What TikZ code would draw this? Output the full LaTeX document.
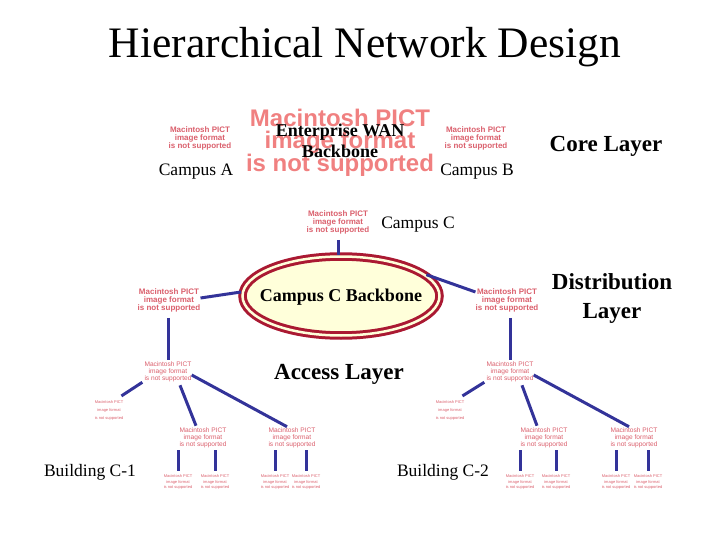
\documentclass[tikz,border=0pt]{standalone}
\usepackage{fontspec}
\setmainfont{Liberation Serif}
\setsansfont{Liberation Sans}
\usetikzlibrary{shapes.geometric}
\definecolor{linkblue}{RGB}{51,51,153}
\definecolor{ringred}{RGB}{170,25,50}
\definecolor{cream}{RGB}{255,255,218}
\definecolor{pictpink}{RGB}{218,95,108}
\definecolor{bigpink}{RGB}{240,128,128}
\begin{document}
\begin{tikzpicture}[x=1pt,y=-1pt,
  title/.style={font=\fontsize{43.5}{46}\selectfont},
  bigpict/.style={text=bigpink,align=center,inner sep=0pt,font=\sffamily\bfseries\fontsize{24}{22}\selectfont},
  pict/.style={text=pictpink,align=center,inner sep=0pt,font=\sffamily\bfseries\fontsize{8}{8}\selectfont},
  midpict/.style={text=pictpink,align=center,inner sep=0pt,font=\sffamily\fontsize{6.6}{7}\selectfont},
  tinypict/.style={text=pictpink,align=center,inner sep=0pt,font=\sffamily\fontsize{4}{8}\selectfont},
  pcpict/.style={text=pictpink,align=center,inner sep=0pt,font=\sffamily\fontsize{4}{5.5}\selectfont},
  lbl/.style={font=\fontsize{17.5}{20}\selectfont},
  heavy/.style={font=\bfseries\fontsize{18}{21}\selectfont,align=center,inner sep=0pt},
  layer/.style={font=\bfseries\fontsize{23}{29}\selectfont,align=center,inner sep=0pt},
  link/.style={draw=linkblue,line width=3pt},
  ring/.style={ellipse,draw=ringred,line width=3pt,double=cream,double distance=2.5pt,fill=cream,minimum width=197,minimum height=79,inner sep=0pt}
]
\useasboundingbox (0,0) rectangle (720,540);
\node[title] (title) at (365,47) {Hierarchical Network Design};
% core layer
\node[bigpict] (wan) at (340,143) {Macintosh PICT\\image format\\is not supported};
\node[heavy] (wanlbl) at (340,141) {Enterprise WAN\\Backbone};
\node[pict] (rtrA) at (200,138) {Macintosh PICT\\image format\\is not supported};
\node[pict] (rtrB) at (476,138) {Macintosh PICT\\image format\\is not supported};
\node[lbl] (campA) at (196,172) {Campus A};
\node[lbl] (campB) at (477,172) {Campus B};
\node[layer] (core) at (606,146) {Core Layer};
% distribution layer
\node[pict] (rtrC) at (338,222) {Macintosh PICT\\image format\\is not supported};
\node[lbl] (campC) at (418,225) {Campus C};
\node[ring] (bb) at (341,296) {};
\node[heavy] (bblbl) at (341,297) {Campus C Backbone};
\node[pict] (distL) at (169,300) {Macintosh PICT\\image format\\is not supported};
\node[pict] (distR) at (507,300) {Macintosh PICT\\image format\\is not supported};
\node[layer] (dist) at (612,299) {Distribution\\Layer};
\draw[link] ([yshift=-6pt]rtrC.south) -- (rtrC.south |- bb.north);
\draw[link] ([yshift=2pt]distL.east) -- ([yshift=4pt]bb.west);
\draw[link] (bb.14) -- ([yshift=8pt]distR.west);
% access layer
\node[layer] (access) at (339,374) {Access Layer};
\node[midpict] (accL) at (168,372) {Macintosh PICT\\image format\\is not supported};
\node[midpict] (accR) at (510,372) {Macintosh PICT\\image format\\is not supported};
\node[tinypict] (hostL) at (109,410) {Macintosh PICT\\image format\\is not supported};
\node[tinypict] (hostR) at (450,410) {Macintosh PICT\\image format\\is not supported};
\node[midpict] (swL1) at (203,438) {Macintosh PICT\\image format\\is not supported};
\node[midpict] (swL2) at (292,438) {Macintosh PICT\\image format\\is not supported};
\node[midpict] (swR1) at (544,438) {Macintosh PICT\\image format\\is not supported};
\node[midpict] (swR2) at (634,438) {Macintosh PICT\\image format\\is not supported};
\node[pcpict] (pcL1) at (178,482) {Macintosh PICT\\image format\\is not supported};
\node[pcpict] (pcL2) at (215,482) {Macintosh PICT\\image format\\is not supported};
\node[pcpict] (pcL3) at (275,482) {Macintosh PICT\\image format\\is not supported};
\node[pcpict] (pcL4) at (306,482) {Macintosh PICT\\image format\\is not supported};
\node[pcpict] (pcR1) at (520,482) {Macintosh PICT\\image format\\is not supported};
\node[pcpict] (pcR2) at (556,482) {Macintosh PICT\\image format\\is not supported};
\node[pcpict] (pcR3) at (616,482) {Macintosh PICT\\image format\\is not supported};
\node[pcpict] (pcR4) at (648,482) {Macintosh PICT\\image format\\is not supported};
\node[lbl] (bldg1) at (90,472) {Building C-1};
\node[lbl] (bldg2) at (443,472) {Building C-2};
\draw[link] ([yshift=-6pt]accL.north |- distL.south) -- ([yshift=2pt]accL.north);
\draw[link] ([yshift=-6pt]accR.north |- distR.south) -- ([yshift=2pt]accR.north);
\draw[link] ([xshift=-2pt]accL.south west) -- ([shift={(-2pt,4pt)}]hostL.north east);
\draw[link] ([xshift=-2pt]accR.south west) -- ([shift={(-2pt,4pt)}]hostR.north east);
\draw[link] ([shift={(12pt,-3pt)}]accL.south) -- ([xshift=-7pt,yshift=2pt]swL1.north);
\draw[link] ([shift={(12pt,-3pt)}]accR.south) -- ([xshift=-7pt,yshift=2pt]swR1.north);
\draw[link] ([yshift=-3pt]accL.east) -- ([xshift=-5pt,yshift=1pt]swL2.north);
\draw[link] ([yshift=-3pt]accR.east) -- ([xshift=-5pt,yshift=1pt]swR2.north);
\draw[link] ([yshift=-2pt]pcL1.north |- swL1.south) -- ([yshift=3pt]pcL1.north);
\draw[link] ([yshift=-2pt]pcL2.north |- swL1.south) -- ([yshift=3pt]pcL2.north);
\draw[link] ([yshift=-2pt]pcL3.north |- swL2.south) -- ([yshift=3pt]pcL3.north);
\draw[link] ([yshift=-2pt]pcL4.north |- swL2.south) -- ([yshift=3pt]pcL4.north);
\draw[link] ([yshift=-2pt]pcR1.north |- swR1.south) -- ([yshift=3pt]pcR1.north);
\draw[link] ([yshift=-2pt]pcR2.north |- swR1.south) -- ([yshift=3pt]pcR2.north);
\draw[link] ([yshift=-2pt]pcR3.north |- swR2.south) -- ([yshift=3pt]pcR3.north);
\draw[link] ([yshift=-2pt]pcR4.north |- swR2.south) -- ([yshift=3pt]pcR4.north);
\end{tikzpicture}
\end{document}
